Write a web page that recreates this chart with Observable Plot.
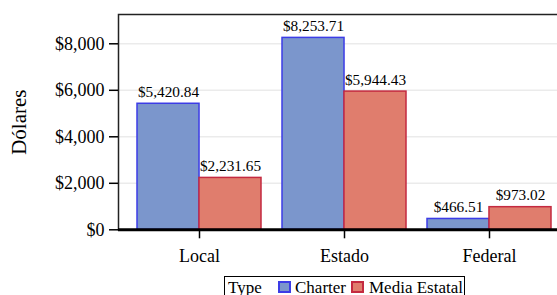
<!DOCTYPE html>
<html>
<head>
<meta charset="utf-8">
<script src="https://cdn.jsdelivr.net/npm/d3@7"></script>
<script src="https://cdn.jsdelivr.net/npm/@observablehq/plot@0.6"></script>
<style>
  html, body { margin: 0; padding: 0; background: #fff; overflow: hidden; width: 557px; height: 295px; }
  body { position: relative; font-family: "Liberation Serif", "Times New Roman", serif; }
  #chart { position: absolute; left: 0; top: 0; width: 569px; }
  #chart svg { max-width: none !important; width: 569px; height: 272px; }
  #legend { position: absolute; left: 224px; top: 276px; width: 241px; height: 30px; box-sizing: border-box; border: 1px solid #000; background: #fff; }
  #legend span { position: absolute; font-size: 17px; line-height: 17px; top: 2px; white-space: nowrap; color: #000; }
  #legend .sw { width: 9px; height: 8px; top: 4px; }
</style>
</head>
<body>
<div id="chart"></div>
<div id="legend"></div>
<script>
const categories = ["Local", "Estado", "Federal"];
const types = ["Charter", "Media Estatal"];
const charterValues = [5420.84, 8253.71, 466.51];
const mediaValues = [2231.65, 5944.43, 973.02];
const yTicks = [0, 2000, 4000, 6000, 8000];
const yLabel = "Dólares";
const legendTitle = "Type";
const fills = ["#7b96cc", "#e07d6d"];
const strokes = ["#3c3ce6", "#c42a40"];

const data = categories.flatMap((c, i) => [
  {category: c, type: types[0], value: charterValues[i]},
  {category: c, type: types[1], value: mediaValues[i]}
]);
const charterData = data.filter(d => d.type === types[0]);
const mediaData = data.filter(d => d.type === types[1]);

const W = 569, H = 272, mL = 118, mT = 14, zeroY = 229.3;
const pIn = 0.148, pOut = 0.124;
const step = (W - mL) / (categories.length - pIn + 2 * pOut);
const bw = step * (1 - pIn);
const half = bw / 2;

const money = d3.format(",");
const money2 = d3.format(",.2f");
const font = '"Liberation Serif", "Times New Roman", serif';

const chart = Plot.plot({
  width: W,
  height: H,
  marginLeft: mL,
  marginRight: 0,
  marginTop: mT,
  marginBottom: H - zeroY,
  style: {fontFamily: font, fontSize: "18px", background: "#fff", color: "#000", overflow: "visible", maxWidth: "none"},
  x: {domain: categories, range: [mL, W], paddingInner: pIn, paddingOuter: pOut, align: 0.5},
  y: {domain: [0, 9260], label: null},
  marks: [
    Plot.ruleY(yTicks.slice(1), {stroke: "#ebebeb", strokeWidth: 1.5}),
    Plot.barY(charterData, {x: "category", y: "value", fill: fills[0], stroke: strokes[0], strokeWidth: 1.5, insetRight: half}),
    Plot.barY(mediaData, {x: "category", y: "value", fill: fills[1], stroke: strokes[1], strokeWidth: 1.5, insetLeft: half}),
    Plot.text(charterData, {x: "category", y: "value", text: d => "$" + money2(d.value), dx: -half / 2, dy: -7, lineAnchor: "bottom", fontSize: 15.3, fill: "#000"}),
    Plot.text(mediaData, {x: "category", y: "value", text: d => "$" + money2(d.value), dx: half / 2, dy: -7, lineAnchor: "bottom", fontSize: 15.3, fill: "#000"}),
    Plot.frame({stroke: "#222", strokeWidth: 1.5}),
    Plot.ruleY([0], {stroke: "#000", strokeWidth: 3}),
    Plot.axisY(yTicks, {tickSize: 9, tickPadding: 5, fontSize: 18, tickFormat: d => "$" + money(d), label: null, stroke: "#000", strokeWidth: 1.5}),
    Plot.axisX({tickSize: 9, tickPadding: 10, fontSize: 18, label: null, stroke: "#000", strokeWidth: 1.5}),
    Plot.text([yLabel], {frameAnchor: "left", textAnchor: "middle", lineAnchor: "middle", rotate: -90, dx: -99, fontSize: 21, fill: "#000"})
  ]
});
document.getElementById("chart").appendChild(chart);

const legend = document.getElementById("legend");
const items = [
  {kind: "text", text: legendTitle, left: 3},
  {kind: "sw", i: 0, left: 53},
  {kind: "text", text: types[0], left: 70},
  {kind: "sw", i: 1, left: 126},
  {kind: "text", text: types[1], left: 144}
];
for (const it of items) {
  const s = document.createElement("span");
  s.style.left = it.left + "px";
  if (it.kind === "text") {
    s.textContent = it.text;
  } else {
    s.className = "sw";
    s.style.background = fills[it.i];
    s.style.border = "2px solid " + strokes[it.i];
  }
  legend.appendChild(s);
}
</script>
</body>
</html>
